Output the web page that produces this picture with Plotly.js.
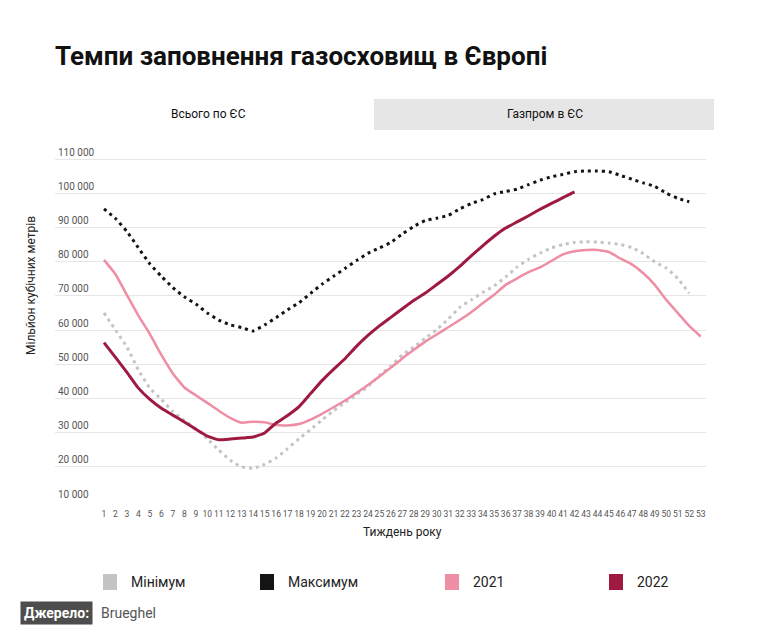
<!DOCTYPE html>
<html>
<head>
<meta charset="utf-8">
<script src="https://cdn.plot.ly/plotly-3.0.1.min.js"></script>
<style>
html, body { margin: 0; padding: 0; background: #ffffff; }
#chart { width: 764px; height: 644px; }
</style>
</head>
<body>
<div id="chart"></div>
<script>
// ---- data ----
const weeks = [1,2,3,4,5,6,7,8,9,10,11,12,13,14,15,16,17,18,19,20,21,22,23,24,25,26,27,28,29,30,31,32,33,34,35,36,37,38,39,40,41,42,43,44,45,46,47,48,49,50,51,52,53];

const minimum = [65000,60000,55000,48300,43000,39700,36200,33500,31200,28200,24900,21900,20000,19600,20700,22600,25300,28200,30900,33700,36400,38800,41100,43500,46700,49500,52700,55000,57600,60100,63200,66600,68800,71000,72900,75500,78400,80700,82500,84000,85000,85600,85800,85700,85400,85000,84100,82300,79900,78100,75100,70700];

const maximum = [95400,92600,88800,84000,79300,75700,72400,69700,67600,65000,62900,61500,60700,59700,61500,63600,65900,68000,70700,73400,75700,78000,80300,82400,84000,85600,88100,90300,92000,92700,93500,95400,97000,98100,99800,100500,101200,102500,103800,104800,105500,106300,106500,106500,106300,105200,104100,103000,102000,100000,98500,97500];

const y2021 = [80500,76300,70200,64200,58800,52700,47300,43200,40900,38700,36400,34300,32900,33200,33000,32200,32100,32500,33800,35500,37400,39400,41600,43900,46400,49000,51700,54200,56600,58700,60800,62900,65200,67800,70300,73200,75100,76900,78300,80200,82100,83000,83400,83400,82800,80900,79200,76600,73200,68800,65000,61200,58100];

const y2022 = [56300,52000,47600,43000,39700,37100,35100,33100,31000,29000,27900,28100,28400,28700,29900,32800,35000,37600,41400,45200,48500,51600,55200,58400,61200,63700,66200,68700,70800,73300,75800,78600,81700,84600,87400,89800,91600,93400,95300,97000,98700,100400];

const yTicks = [10000,20000,30000,40000,50000,60000,70000,80000,90000,100000,110000];

const seriesNames = ['Мінімум', 'Максимум', '2021', '2022'];
const chartTitle = 'Темпи заповнення газосховищ в Європі';
const tabLabels = ['Всього по ЄС', 'Газпром в ЄС'];
const xTitle = 'Тиждень року';
const yTitle = 'Мільйон кубічних метрів';
const sourceLabel = 'Джерело:';
const sourceName = 'Brueghel';

// ---- styles ----
const colors = ['#c4c4c4', '#141414', '#ee8ea4', '#9e1a40'];
const FONT = 'Roboto, "Noto Sans", sans-serif';

// ---- geometry helpers (pixel -> paper) ----
const W = 764, H = 644;
const L = 55, R = 58, T = 145, B = 142;
const PW = W - L - R, PH = H - T - B;
const bottomPx = H - B;
const px2x = px => (px - L) / PW;
const py2y = py => (bottomPx - py) / PH;

const fmt = v => String(v).replace(/\B(?=(\d{3})+(?!\d))/g, ' ');

const traces = [
  { name: seriesNames[0], x: weeks.slice(0, minimum.length), y: minimum,
    line: { color: colors[0], width: 3, dash: '3px,4px', shape: 'spline', smoothing: 0.4 } },
  { name: seriesNames[1], x: weeks.slice(0, maximum.length), y: maximum,
    line: { color: colors[1], width: 3, dash: '3px,4px', shape: 'spline', smoothing: 0.4 } },
  { name: seriesNames[2], x: weeks.slice(0, y2021.length), y: y2021,
    line: { color: colors[2], width: 2.5, shape: 'spline', smoothing: 0.4 } },
  { name: seriesNames[3], x: weeks.slice(0, y2022.length), y: y2022,
    line: { color: colors[3], width: 3, shape: 'spline', smoothing: 0.4 } }
].map(t => Object.assign({ type: 'scatter', mode: 'lines', showlegend: false, hoverinfo: 'x+y+name' }, t));

// legend laid out as four equal columns, items centred
const legendSquareX = [103, 260, 445, 609];
const legendY = 582;
const shapes = [];
const annotations = [];

// tabs
shapes.push({ type: 'rect', xref: 'paper', yref: 'paper', layer: 'below',
  x0: px2x(374), x1: px2x(714), y0: py2y(130), y1: py2y(99),
  fillcolor: '#e6e6e6', line: { width: 0 } });
annotations.push({ xref: 'paper', yref: 'paper', x: px2x(208), y: py2y(114),
  text: tabLabels[0], showarrow: false, xanchor: 'center', yanchor: 'middle',
  font: { family: FONT, size: 12, color: '#111' } });
annotations.push({ xref: 'paper', yref: 'paper', x: px2x(545), y: py2y(114),
  text: tabLabels[1], showarrow: false, xanchor: 'center', yanchor: 'middle',
  font: { family: FONT, size: 12, color: '#111' } });

// axis titles
annotations.push({ xref: 'paper', yref: 'paper', x: px2x(402), y: py2y(532),
  text: xTitle, showarrow: false, xanchor: 'center', yanchor: 'middle',
  font: { family: FONT, size: 12, color: '#222' } });
annotations.push({ xref: 'paper', yref: 'paper', x: px2x(31), y: py2y(286),
  text: yTitle, showarrow: false, textangle: -90, xanchor: 'center', yanchor: 'middle',
  font: { family: FONT, size: 12, color: '#222' } });

// legend
seriesNames.forEach((n, i) => {
  const sx = legendSquareX[i];
  shapes.push({ type: 'rect', xref: 'paper', yref: 'paper',
    x0: px2x(sx), x1: px2x(sx + 14), y0: py2y(legendY + 8), y1: py2y(legendY - 8),
    fillcolor: colors[i], line: { width: 0 } });
  annotations.push({ xref: 'paper', yref: 'paper', x: px2x(sx + 26), y: py2y(legendY),
    text: n, showarrow: false, xanchor: 'left', yanchor: 'middle',
    font: { family: FONT, size: 14, color: '#222' } });
});

// source
annotations.push({ xref: 'paper', yref: 'paper', x: px2x(20), y: py2y(613),
  text: '<b>' + sourceLabel + '</b>', showarrow: false, xanchor: 'left', yanchor: 'middle',
  bgcolor: '#4d4d4d', borderpad: 3,
  font: { family: FONT, size: 14, color: '#ffffff' } });
annotations.push({ xref: 'paper', yref: 'paper', x: px2x(99), y: py2y(613),
  text: sourceName, showarrow: false, xanchor: 'left', yanchor: 'middle',
  font: { family: FONT, size: 14, color: '#555' } });

const wk0 = 104, wkStep = 11.475; // pixel of week 1 and per-week pixels
const layout = {
  width: W, height: H,
  margin: { l: L, r: R, t: T, b: B, pad: 0 },
  paper_bgcolor: '#ffffff', plot_bgcolor: '#ffffff',
  font: { family: FONT },
  title: { text: '<b>' + chartTitle + '</b>', xref: 'container', yref: 'container',
    x: 55 / W, xanchor: 'left', y: 1 - 56 / H, yanchor: 'middle',
    font: { family: FONT, size: 26, color: '#111' } },
  xaxis: {
    range: [1 + (L - wk0) / wkStep, 1 + (W - R - wk0) / wkStep],
    tickvals: weeks, ticktext: weeks.map(String),
    tickangle: 0, ticklabelstandoff: 5,
    tickfont: { family: FONT, size: 8.5, color: '#555' },
    showgrid: false, zeroline: false, showline: false, ticks: '',
    fixedrange: true
  },
  yaxis: {
    range: [10000 - 1 * 292.4, 10000 + (501 - T) * 292.4],
    tickvals: yTicks, ticktext: yTicks.map(fmt),
    ticklabelposition: 'inside top',
    tickfont: { family: FONT, size: 10, color: '#555' },
    showgrid: true, gridcolor: '#e6e6e6', gridwidth: 1,
    zeroline: false, showline: false, ticks: '',
    fixedrange: true
  },
  showlegend: false,
  shapes: shapes,
  annotations: annotations
};

Plotly.newPlot('chart', traces, layout, { displayModeBar: false, responsive: false });
</script>
</body>
</html>
